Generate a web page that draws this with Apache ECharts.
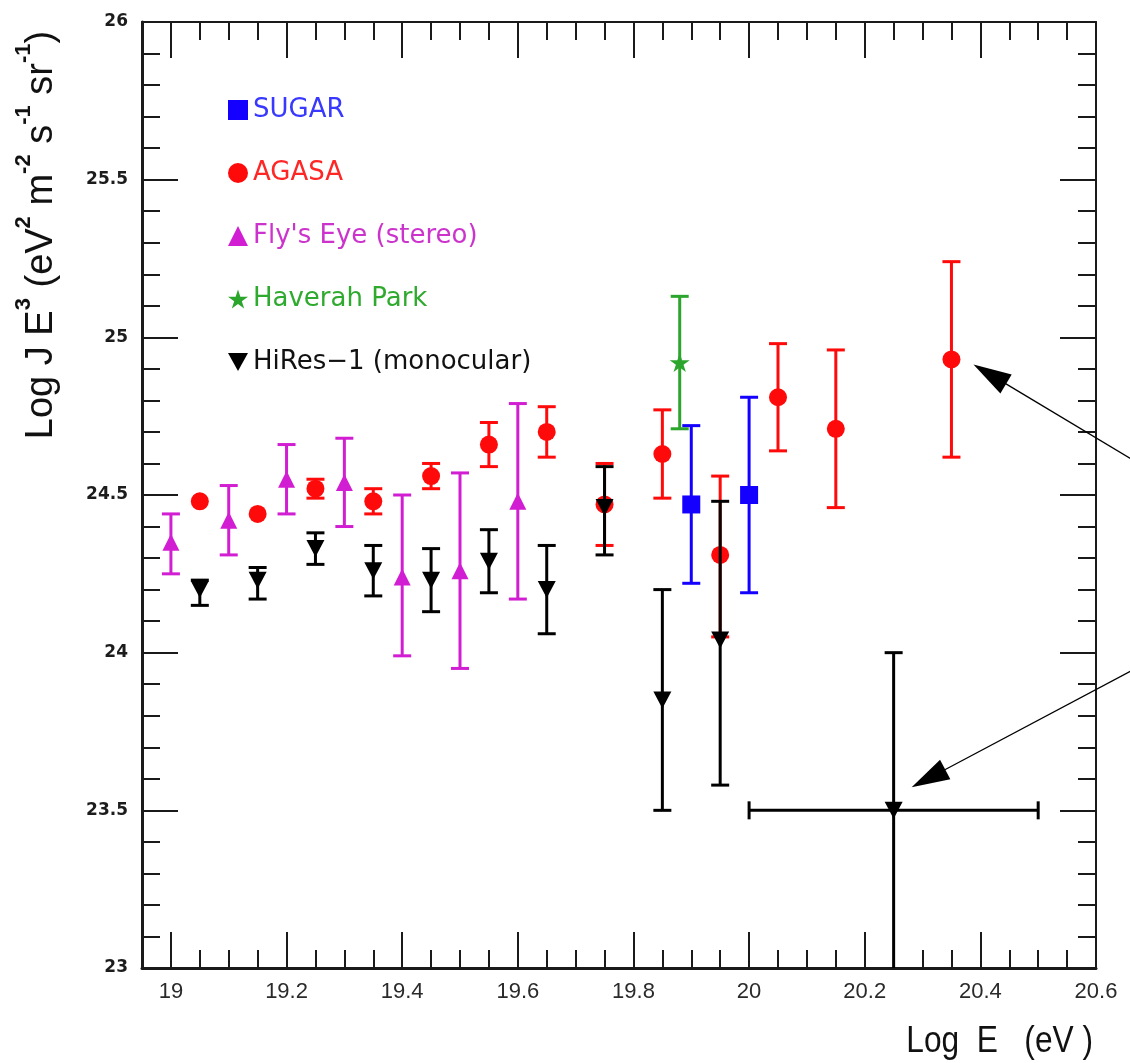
<!DOCTYPE html>
<html>
<head>
<meta charset="utf-8">
<script src="https://cdn.jsdelivr.net/npm/echarts@6/dist/echarts.min.js"></script>
<style>
  html, body { margin: 0; padding: 0; background: #ffffff; }
  #chart { width: 1130px; height: 1063px; }
</style>
</head>
<body>
<div id="chart"></div>
<script>
// Cosmic-ray flux: Log E (eV) against Log J E^3, with lower/upper error bounds.

const sugarE  = [19.90, 20.00];
const sugarJ  = [24.47, 24.50];
const sugarLo = [24.22, 24.19];
const sugarHi = [24.72, 24.81];

const agasaE  = [19.05, 19.15, 19.25, 19.35, 19.45, 19.55, 19.65, 19.75, 19.85, 19.95, 20.05, 20.15, 20.35];
const agasaJ  = [24.48, 24.44, 24.52, 24.48, 24.56, 24.66, 24.70, 24.47, 24.63, 24.31, 24.81, 24.71, 24.93];
const agasaLo = [null,  null,  24.49, 24.44, 24.52, 24.59, 24.62, 24.34, 24.49, 24.05, 24.64, 24.46, 24.62];
const agasaHi = [null,  null,  24.55, 24.52, 24.60, 24.73, 24.78, 24.60, 24.77, 24.56, 24.98, 24.96, 25.24];

const flysE  = [19.0, 19.1, 19.2, 19.3, 19.4, 19.5, 19.6];
const flysJ  = [24.35, 24.42, 24.55, 24.54, 24.24, 24.26, 24.48];
const flysLo = [24.25, 24.31, 24.44, 24.40, 23.99, 23.95, 24.17];
const flysHi = [24.44, 24.53, 24.66, 24.68, 24.50, 24.57, 24.79];

const haverahE  = [19.88];
const haverahJ  = [24.92];
const haverahLo = [24.71];
const haverahHi = [25.13];

const hiresE   = [19.05, 19.15, 19.25, 19.35, 19.45, 19.55, 19.65, 19.75, 19.85, 19.95, 20.25];
const hiresJ   = [24.20, 24.23, 24.33, 24.26, 24.23, 24.29, 24.20, 24.46, 23.85, 24.04, 23.50];
const hiresLo  = [24.15, 24.17, 24.28, 24.18, 24.13, 24.19, 24.06, 24.31, 23.50, 23.58, 22.80];
const hiresHi  = [24.23, 24.27, 24.38, 24.34, 24.33, 24.39, 24.34, 24.59, 24.20, 24.48, 24.00];
// energy-bin width (only the last, wide bin has one)
const hiresELo = [null, null, null, null, null, null, null, null, null, null, 20.0];
const hiresEHi = [null, null, null, null, null, null, null, null, null, null, 20.5];

// axis ranges and labelled tick values
const X_MIN = 18.95, X_MAX = 20.6;
const Y_MIN = 23, Y_MAX = 26;
const xTickLabels = [19, 19.2, 19.4, 19.6, 19.8, 20, 20.2, 20.4, 20.6];

const xMinorTicks = [];
for (let k = 0; X_MIN + k * 0.05 <= X_MAX + 1e-9; k++) xMinorTicks.push(+(X_MIN + k * 0.05).toFixed(2));

const AXIS_COLOR = '#1a1a1a';
const CAP = 9;

const DOWN_TRIANGLE = 'path://M0,0L2,0L1,1.8Z';
const STAR = 'path://M10,0L12.245,6.91L19.511,6.91L13.633,11.18L15.878,18.09L10,13.82L4.122,18.09L6.367,11.18L0.489,6.91L7.755,6.91Z';

const groups = [
  { name: "Fly's Eye (stereo)", E: flysE, J: flysJ, lo: flysLo, hi: flysHi, color: '#d21ed2', text: '#cc33cc', symbol: 'triangle', size: [17, 17], z: 2 },
  { name: 'Haverah Park', E: haverahE, J: haverahJ, lo: haverahLo, hi: haverahHi, color: '#2ca52c', text: '#2faa2f', symbol: STAR, size: [20, 19], z: 4 },
  { name: 'SUGAR', E: sugarE, J: sugarJ, lo: sugarLo, hi: sugarHi, color: '#1400ff', text: '#3838ff', symbol: 'rect', size: [18, 18], z: 6 },
  { name: 'AGASA', E: agasaE, J: agasaJ, lo: agasaLo, hi: agasaHi, color: '#ff0a0a', text: '#ff2626', symbol: 'circle', size: 18, z: 8 },
  { name: 'HiRes\u22121 (monocular)', E: hiresE, J: hiresJ, lo: hiresLo, hi: hiresHi, eLo: hiresELo, eHi: hiresEHi, color: '#000000', text: '#111111', symbol: DOWN_TRIANGLE, size: [18, 17], z: 10 }
];
const legendOrder = ['SUGAR', 'AGASA', "Fly's Eye (stereo)", 'Haverah Park', 'HiRes\u22121 (monocular)'];
const legendIcons = { 'SUGAR': 'rect', 'AGASA': 'circle', "Fly's Eye (stereo)": 'triangle', 'Haverah Park': STAR, 'HiRes\u22121 (monocular)': DOWN_TRIANGLE };

function errorSeries(g) {
  const data = [];
  g.E.forEach((e, i) => {
    if (g.lo[i] == null) return;
    const el = g.eLo ? g.eLo[i] : null, eh = g.eHi ? g.eHi[i] : null;
    data.push([e, g.lo[i], g.hi[i], el == null ? NaN : el, eh == null ? NaN : eh, g.J[i]]);
  });
  return {
    type: 'custom', name: g.name + ' errors', z: g.z, clip: true, silent: true,
    xAxisIndex: 0, yAxisIndex: 0,
    encode: { x: 0, y: [1, 2] },
    data,
    renderItem(params, api) {
      const e = api.value(0), lo = api.value(1), hi = api.value(2);
      const el = api.value(3), eh = api.value(4), j = api.value(5);
      const a = api.coord([e, lo]), b = api.coord([e, hi]);
      const st = { stroke: g.color, lineWidth: 3 };
      const children = [
        { type: 'line', shape: { x1: a[0], y1: a[1], x2: b[0], y2: b[1] }, style: st },
        { type: 'line', shape: { x1: a[0] - CAP, y1: a[1], x2: a[0] + CAP, y2: a[1] }, style: st },
        { type: 'line', shape: { x1: b[0] - CAP, y1: b[1], x2: b[0] + CAP, y2: b[1] }, style: st }
      ];
      if (!isNaN(el) && !isNaN(eh)) {
        const l = api.coord([el, j]), r = api.coord([eh, j]);
        children.push(
          { type: 'line', shape: { x1: l[0], y1: l[1], x2: r[0], y2: r[1] }, style: st },
          { type: 'line', shape: { x1: l[0], y1: l[1] - CAP, x2: l[0], y2: l[1] + CAP }, style: st },
          { type: 'line', shape: { x1: r[0], y1: r[1] - CAP, x2: r[0], y2: r[1] + CAP }, style: st }
        );
      }
      return { type: 'group', children };
    }
  };
}

function markerSeries(g) {
  return {
    type: 'scatter', name: g.name, z: g.z + 1, silent: true,
    xAxisIndex: 0, yAxisIndex: 0,
    symbol: g.symbol, symbolSize: g.size,
    itemStyle: { color: g.color, opacity: 1 },
    data: g.E.map((e, i) => [e, g.J[i]])
  };
}

function xFrame(position, ticks, tickLen, lineWidth, withLabels) {
  return {
    type: 'value', position, min: X_MIN, max: X_MAX,
    axisLine: { show: lineWidth > 0, onZero: false, lineStyle: { color: AXIS_COLOR, width: lineWidth || 1 } },
    axisTick: { show: true, inside: true, length: tickLen, customValues: ticks, lineStyle: { color: AXIS_COLOR, width: 2 } },
    axisLabel: withLabels ? {
      show: true, customValues: xTickLabels, margin: 13,
      fontFamily: 'Liberation Sans', fontSize: 22, color: '#2a2a2a',
      formatter: v => String(+(+v).toFixed(1))
    } : { show: false },
    splitLine: { show: false },
    axisPointer: { show: false }
  };
}

function yFrame(position, lineWidth, withLabels) {
  return {
    type: 'value', position, min: Y_MIN, max: Y_MAX, interval: 0.5,
    axisLine: { show: true, onZero: false, lineStyle: { color: AXIS_COLOR, width: lineWidth } },
    axisTick: { show: true, inside: true, length: 36, lineStyle: { color: AXIS_COLOR, width: 2 } },
    minorTick: { show: true, splitNumber: 5, length: 18, lineStyle: { color: AXIS_COLOR, width: 2 } },
    axisLabel: withLabels ? {
      show: true, margin: 14, fontFamily: 'DejaVu Sans', fontSize: 17, fontWeight: 'bold', color: '#1c1c1c',
      formatter: v => String(v)
    } : { show: false },
    splitLine: { show: false },
    minorSplitLine: { show: false },
    axisPointer: { show: false }
  };
}

const chart = echarts.init(document.getElementById('chart'), null, { renderer: 'canvas' });

const series = [];
groups.forEach(g => { series.push(errorSeries(g)); series.push(markerSeries(g)); });

chart.setOption({
  animation: false,
  backgroundColor: '#ffffff',
  grid: { left: 142, right: 34, top: 22, bottom: 95, containLabel: false },
  xAxis: [
    xFrame('bottom', xTickLabels, 36, 3, true),
    xFrame('bottom', xMinorTicks, 18, 0, false),
    xFrame('top', xTickLabels, 36, 2, false),
    xFrame('top', xMinorTicks, 18, 0, false)
  ],
  yAxis: [
    yFrame('left', 3, true),
    yFrame('right', 2, false)
  ],
  legend: {
    show: true, orient: 'vertical', left: 228, top: 97, padding: 0,
    itemWidth: 20, itemHeight: 20, itemGap: 37, selectedMode: false,
    textStyle: { fontFamily: 'DejaVu Sans', fontSize: 26, lineHeight: 20 },
    data: legendOrder.map(n => {
      const g = groups.find(x => x.name === n);
      return { name: n, icon: legendIcons[n], itemStyle: { color: g.color }, textStyle: { color: g.text } };
    })
  },
  series
});

// annotation arrows pointing at the two highest-energy events
const arrowNotes = [
  { target: [agasaE[12], agasaJ[12]], tipShift: [22, 5], tailShift: [170, 102] },
  { target: [hiresE[10], hiresJ[10]], tipShift: [18, -23], tailShift: [230, -122] }
];
const arrowGraphics = [];
arrowNotes.forEach(n => {
  const p = chart.convertToPixel({ xAxisIndex: 0, yAxisIndex: 0 }, n.target);
  const tip = [p[0] + n.tipShift[0], p[1] + n.tipShift[1]];
  const tail = [tip[0] + n.tailShift[0], tip[1] + n.tailShift[1]];
  const L = Math.hypot(n.tailShift[0], n.tailShift[1]);
  const ux = n.tailShift[0] / L, uy = n.tailShift[1] / L;
  const headLen = 38, headHalf = 11;
  const bx = tip[0] + ux * headLen, by = tip[1] + uy * headLen;
  arrowGraphics.push(
    { type: 'line', silent: true, z: 20, shape: { x1: bx - ux * 2, y1: by - uy * 2, x2: tail[0], y2: tail[1] }, style: { stroke: '#000', lineWidth: 1.3 } },
    { type: 'polygon', silent: true, z: 20, shape: { points: [tip, [bx - uy * headHalf, by + ux * headHalf], [bx + uy * headHalf, by - ux * headHalf]] }, style: { fill: '#000' } }
  );
});

chart.setOption({
  graphic: [
    {
      type: 'text', silent: true, x: 1093, y: 1042, scaleX: 0.88,
      style: {
        text: 'Log  E   (eV )', fill: '#111111',
        fontFamily: 'Liberation Sans', fontSize: 36,
        align: 'right', verticalAlign: 'middle'
      }
    },
    {
      type: 'text', silent: true, x: 37, y: 235, rotation: Math.PI / 2,
      style: {
        text: '{m|Log J E}{s|3}{m| (eV}{s|2}{m| m}{s|-2}{m| s}{s|-1}{m| sr}{s|-1}{m|)}',
        align: 'center', verticalAlign: 'middle',
        rich: {
          m: { fontFamily: 'Liberation Sans', fontSize: 38, lineHeight: 48, verticalAlign: 'bottom', fill: '#111111' },
          s: { fontFamily: 'Liberation Sans', fontSize: 22, lineHeight: 22, verticalAlign: 'top', fill: '#111111', fontWeight: 'bold' }
        }
      }
    }
  ].concat(arrowGraphics)
});
</script>
</body>
</html>
